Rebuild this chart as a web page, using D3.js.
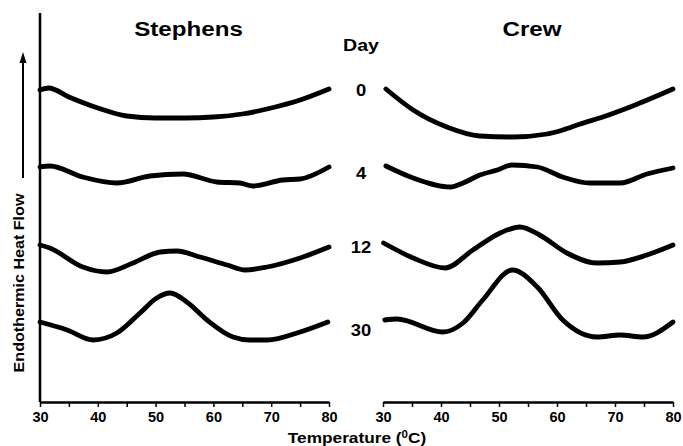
<!DOCTYPE html>
<html>
<head>
<meta charset="utf-8">
<script src="https://cdn.jsdelivr.net/npm/d3@7"></script>
<style>
  body { margin: 0; background: #fff; }
  svg { display: block; font-family: "Liberation Sans", Arial, sans-serif; font-weight: bold; }
</style>
</head>
<body>
<div id="chart"></div>
<script>
// Thermograms: temperature (C) vs endothermic heat flow (arbitrary units, offset per day)
const days = ['0', '4', '12', '30'];
const panels = ['Stephens', 'Crew'];
const tickValues = [30, 35, 40, 45, 50, 55, 60, 65, 70, 75, 80];
const tickLabels = [30, 40, 50, 60, 70, 80];
const dayLevels = [312, 229, 155, 72];

const stephensDay0 = [[30, 312], [31.5, 314], [35, 305], [40, 294], [45, 286], [50, 284], [55, 284], [60, 285], [65, 288], [70, 294], [75, 302], [80, 313]];
const stephensDay4 = [[30, 235], [31.7, 236], [37.4, 225], [43.3, 219], [49, 226], [54.7, 228], [60.6, 220], [64.6, 219], [66.8, 216], [72, 222], [75, 223], [80, 235]];
const stephensDay12 = [[30, 157], [31.7, 154], [37.4, 135], [41.6, 130], [46.1, 139], [50.8, 150], [53.7, 151], [57.7, 145], [62.4, 137], [65.5, 132], [69.3, 135], [75, 144], [80, 155]];
const stephensDay30 = [[30, 80], [34.7, 72], [39.2, 62], [43.3, 69], [47.3, 89], [50.2, 104], [52.5, 109], [55.4, 100], [58.9, 82], [63.4, 65], [66.3, 62], [69.3, 62], [75, 70], [79.8, 80]];

const crewDay0 = [[30.5, 313], [35.2, 292], [41, 275], [46.7, 266], [52.4, 265], [58.3, 268], [61, 272], [64, 278], [67.9, 285], [72.6, 295], [80, 313]];
const crewDay4 = [[30.5, 236], [35.2, 224], [41.6, 215], [43.8, 219], [46.7, 227], [49.7, 232], [52.2, 237], [56.6, 235], [61, 225], [65.7, 219], [70.9, 219], [75.5, 228], [80, 234]];
const crewDay12 = [[30.1, 159], [35.2, 144], [40.7, 134], [45.5, 152], [50.2, 169], [53.6, 175], [57, 167], [61.7, 149], [66.9, 139], [70.9, 140], [75.5, 147], [80, 157]];
const crewDay30 = [[30.3, 82], [32.4, 83], [40.3, 70], [43.8, 79], [47.2, 102], [52.3, 132], [56.6, 115], [61, 82], [66.9, 65], [70.9, 67], [74.8, 65], [80, 80]];

const series = [
  [stephensDay0, stephensDay4, stephensDay12, stephensDay30],
  [crewDay0, crewDay4, crewDay12, crewDay30]
];

const width = 683, height = 446;
const svg = d3.select('#chart').append('svg')
  .attr('width', width)
  .attr('height', height);

const y = d3.scaleLinear().domain([0, 390]).range([402, 12]);
const xScales = [
  d3.scaleLinear().domain([30, 80]).range([40, 329]),
  d3.scaleLinear().domain([30, 80]).range([383, 673])
];
const stretch = 1.15;

function label(x, yy, txt, size, rot) {
  return svg.append('text')
    .attr('transform', `translate(${x},${yy}) rotate(${rot || 0}) scale(${stretch},1)`)
    .attr('text-anchor', 'middle')
    .attr('font-size', size)
    .attr('fill', '#000')
    .text(txt);
}

panels.forEach((name, i) => {
  const x = xScales[i];

  // x axis with ticks every 5 degrees, labels every 10
  const axis = d3.axisBottom(x)
    .tickValues(tickValues)
    .tickSize(5)
    .tickSizeOuter(0)
    .tickFormat(d => tickLabels.includes(d) ? d : '');
  const g = svg.append('g').attr('transform', 'translate(0,402)').call(axis);
  g.select('.domain').attr('stroke', '#000').attr('stroke-width', 2.5);
  g.selectAll('.tick line').attr('stroke', '#000').attr('stroke-width', 1.5);
  g.selectAll('.tick text')
    .attr('font-size', 14.5)
    .attr('font-weight', 'bold')
    .attr('font-family', '"Liberation Sans", Arial, sans-serif')
    .attr('fill', '#000')
    .attr('y', 0)
    .attr('dy', 20)
    .attr('x', 0);

  // panel title
  label((x.range()[0] + x.range()[1]) / 2 + 4, 36, name, 21);

  // curves
  const line = d3.line()
    .x(d => x(d[0]))
    .y(d => y(d[1]))
    .curve(d3.curveMonotoneX);
  svg.append('g')
    .selectAll('path')
    .data(series[i])
    .enter()
    .append('path')
    .attr('d', line)
    .attr('fill', 'none')
    .attr('stroke', '#000')
    .attr('stroke-width', 4.8)
    .attr('stroke-linecap', 'round')
    .attr('stroke-linejoin', 'round');
});

// left y axis line (no ticks)
svg.append('line')
  .attr('x1', xScales[0](30)).attr('x2', xScales[0](30))
  .attr('y1', y(389)).attr('y2', y(0))
  .attr('stroke', '#000').attr('stroke-width', 2.5);

// day labels
label(361, 51, 'Day', 17);
svg.append('g')
  .selectAll('text')
  .data(days)
  .enter()
  .append('text')
  .attr('transform', (d, i) => `translate(361,${y(dayLevels[i])}) scale(${stretch},1)`)
  .attr('text-anchor', 'middle')
  .attr('dy', '0.36em')
  .attr('font-size', 16)
  .text(d => d);

// x axis title with superscript 0
const xt = svg.append('text')
  .attr('transform', `translate(357,443) scale(${stretch},1)`)
  .attr('text-anchor', 'middle')
  .attr('font-size', 15);
xt.append('tspan').text('Temperature (');
xt.append('tspan').attr('font-size', 10).attr('dy', -5).text('0');
xt.append('tspan').attr('dy', 5).text('C)');

// y axis title and arrow
label(24, 283, 'Endothermic Heat Flow', 14, -90);
svg.append('line')
  .attr('x1', 23).attr('x2', 23)
  .attr('y1', 178).attr('y2', 62)
  .attr('stroke', '#000').attr('stroke-width', 2);
svg.append('path')
  .attr('d', 'M23,52 L19.5,63 L26.5,63 Z')
  .attr('fill', '#000');
</script>
</body>
</html>
